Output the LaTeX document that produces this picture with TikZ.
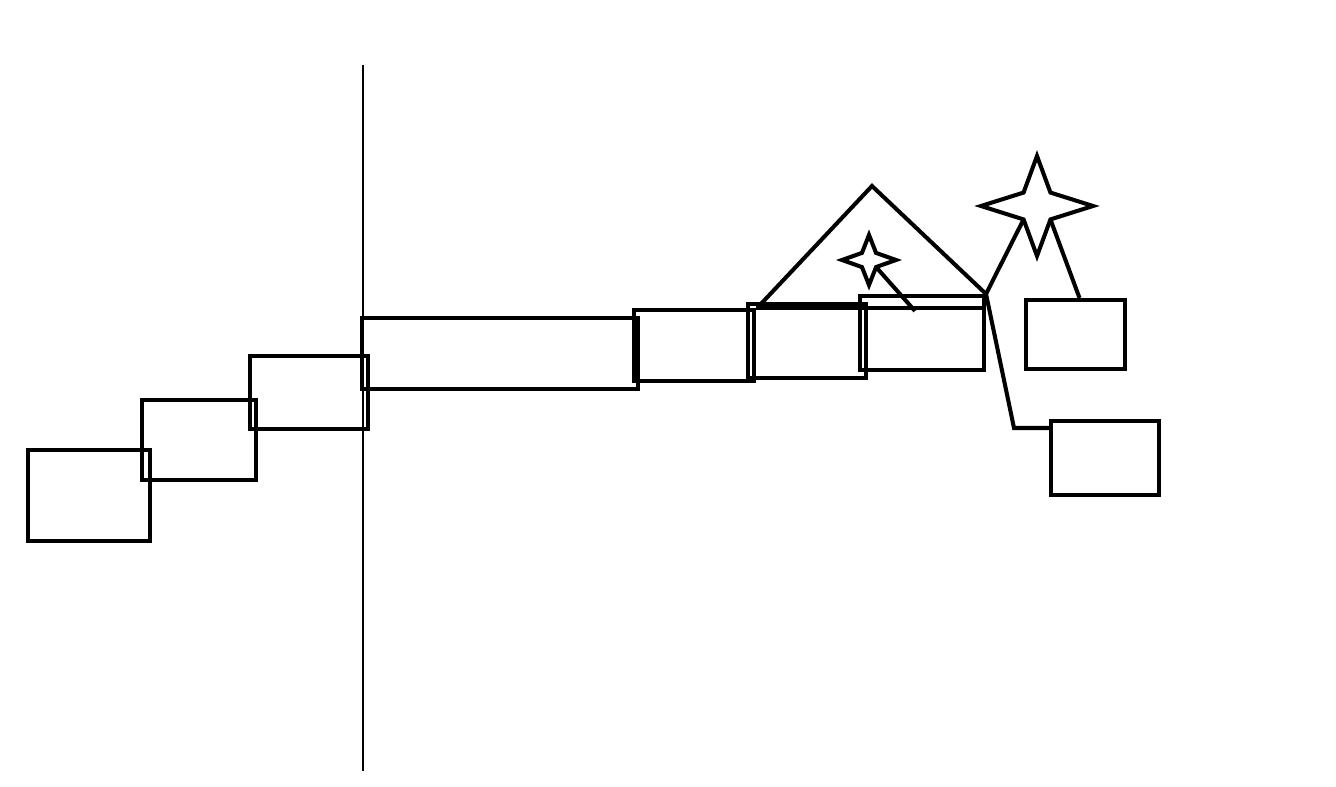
\documentclass[tikz,border=0pt]{standalone}
\usetikzlibrary{fit}
\tikzset{
  box/.style={draw, line width=2.3pt, inner sep=0pt},
  wire/.style={line width=2.3pt},
  pics/fourstar/.style n args={3}{code={
    \draw[wire] (0,-#2) -- (-45:#3) -- (#1,0) -- (45:#3) -- (0,#2)
      -- (135:#3) -- (-#1,0) -- (-135:#3) -- cycle;
    \coordinate (-lowleft) at (135:#3);
    \coordinate (-lowright) at (45:#3);
  }},
}
\begin{document}
\begin{tikzpicture}[x=0.02cm, y=-0.02cm]
  \useasboundingbox (0,0) rectangle (1336,787);
  % thin divider
  \coordinate (cuttop) at (363,65);
  \coordinate (cutbot) at (363,771);
  \draw[line width=0.6pt] (cuttop) -- (cutbot);
  % rising chain of boxes
  \node[box, fit={(28,450) (150,541)}] (r1) {};
  \node[box, fit={(142,400) (256,480)}] (r2) {};
  \node[box, fit={(250,356) (368,429)}] (r3) {};
  \node[box, fit={(362,318) (638,389)}] (r4) {};
  \node[box, fit={(634,310) (754,381)}] (r5) {};
  \node[box, fit={(748,304) (866,378)}] (r6) {};
  \node[box, fit={(860,296) (984,370)}] (r7) {};
  \draw[wire] (r5.north east) -- (r5.north east -| r7.east);
  % roof
  \coordinate (roofl) at (759,306);
  \coordinate (apex) at (872,186);
  \draw[wire] (roofl) -- (apex) -- (r7.north east);
  % stars
  \pic (sstar) at (869,260) {fourstar={27}{25}{10}};
  \coordinate (sfoot) at (915,311);
  \draw[wire] (sstar-lowright) -- (sfoot);
  \pic (bstar) at (1037,206) {fourstar={56}{50}{19}};
  % side boxes
  \node[box, fit={(1026,300) (1125,369)}] (r8) {};
  \node[box, fit={(1051,421) (1159,495)}] (r9) {};
  \draw[wire] (bstar-lowleft) -- (r7.north east);
  \draw[wire] (bstar-lowright) -- ([xshift=0.08cm]r8.north);
  \coordinate (bend) at (1014,428);
  \draw[wire] (r7.north east) -- (bend) -- (bend -| r9.west);
\end{tikzpicture}
\end{document}
